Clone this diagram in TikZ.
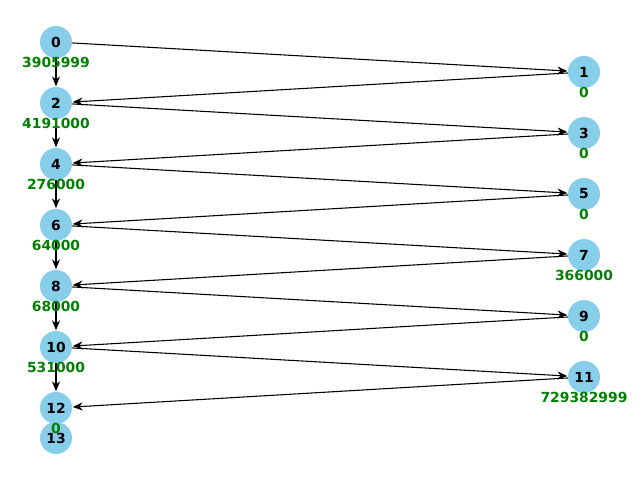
\documentclass[tikz,border=0pt]{standalone}
\usepackage{fontspec}
\setmainfont{DejaVu Sans}
\usetikzlibrary{arrows.meta}
\definecolor{sky}{HTML}{87CEEB}
\definecolor{lbl}{HTML}{008000}
\begin{document}
\begin{tikzpicture}[x=0.75pt,y=-0.75pt,
  vtx/.style={circle,fill=sky,minimum size=24pt,inner sep=0pt,font=\fontsize{10.4}{12}\selectfont\bfseries},
  val/.style={text=lbl,font=\fontsize{10.4}{12}\selectfont\bfseries,inner sep=0pt},
  edge/.style={-{Stealth[length=7.5pt,width=6pt]},line width=0.8pt,shorten >=0.3pt}]
\useasboundingbox (0,0) rectangle (640,480);
\node[vtx] (n0) at (56,42) {0};
\node[vtx] (n2) at (56,103) {2};
\node[vtx] (n4) at (56,164) {4};
\node[vtx] (n6) at (56,225) {6};
\node[vtx] (n8) at (56,286) {8};
\node[vtx] (n10) at (56,347) {10};
\node[vtx] (n12) at (56,408) {12};
\node[vtx] (n13) at (56,438) {13};
\node[vtx] (n1) at (584,72) {1};
\node[vtx] (n3) at (584,133) {3};
\node[vtx] (n5) at (584,194) {5};
\node[vtx] (n7) at (584,255) {7};
\node[vtx] (n9) at (584,316) {9};
\node[vtx] (n11) at (584,377) {11};
\draw[edge] (n0) -- (n1);
\draw[edge] (n0) -- (n2);
\draw[edge] (n1) -- (n2);
\draw[edge] (n2) -- (n3);
\draw[edge] (n2) -- (n4);
\draw[edge] (n3) -- (n4);
\draw[edge] (n4) -- (n5);
\draw[edge] (n4) -- (n6);
\draw[edge] (n5) -- (n6);
\draw[edge] (n6) -- (n7);
\draw[edge] (n6) -- (n8);
\draw[edge] (n7) -- (n8);
\draw[edge] (n8) -- (n9);
\draw[edge] (n8) -- (n10);
\draw[edge] (n9) -- (n10);
\draw[edge] (n10) -- (n11);
\draw[edge] (n10) -- (n12);
\draw[edge] (n11) -- (n12);
\node[val] (v0) at (56,62) {3905999};
\node[val] (v2) at (56,123) {4191000};
\node[val] (v4) at (56,184) {276000};
\node[val] (v6) at (56,245) {64000};
\node[val] (v8) at (56,306) {68000};
\node[val] (v10) at (56,367) {531000};
\node[val] (v12) at (56,428) {0};
\node[val] (v1) at (584,92) {0};
\node[val] (v3) at (584,153) {0};
\node[val] (v5) at (584,214) {0};
\node[val] (v7) at (584,275) {366000};
\node[val] (v9) at (584,336) {0};
\node[val] (v11) at (584,397) {729382999};
\end{tikzpicture}
\end{document}
